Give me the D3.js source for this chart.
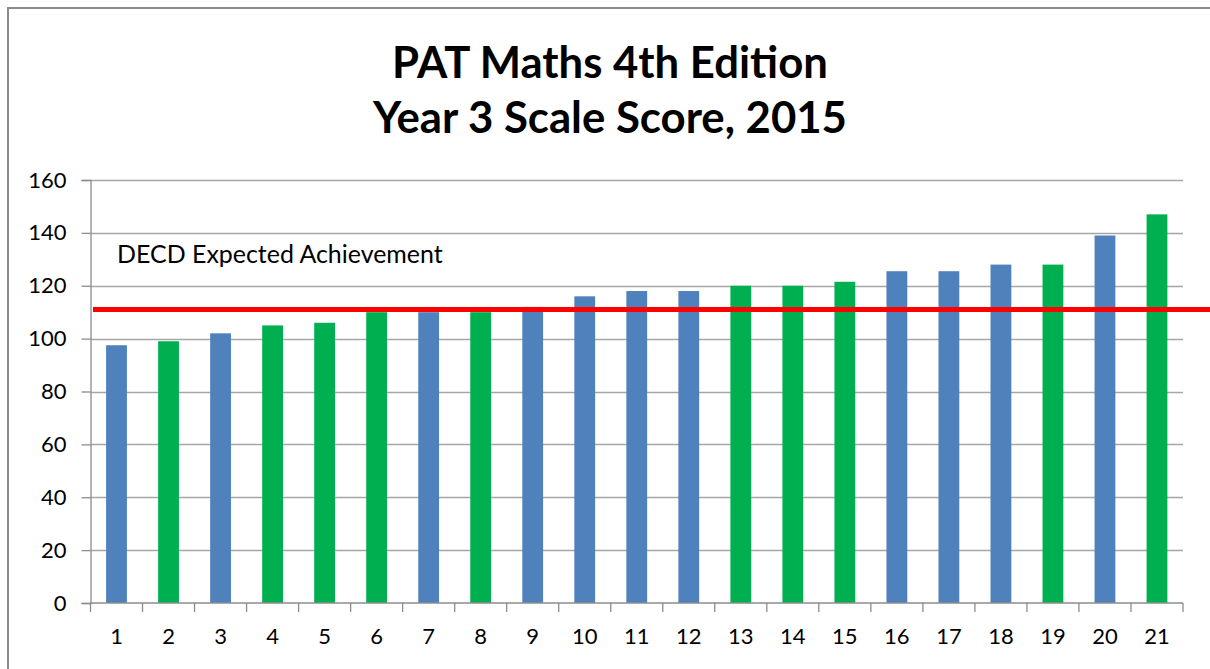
<!DOCTYPE html>
<html>
<head>
<meta charset="utf-8">
<script src="https://cdn.jsdelivr.net/npm/d3@7"></script>
<style>
  html, body { margin: 0; padding: 0; background: #fff; }
  svg { display: block; }
</style>
</head>
<body>
<svg id="chart" width="1210" height="669"></svg>
<script>
// ---- data ----
const categories = ["1","2","3","4","5","6","7","8","9","10","11","12","13","14","15","16","17","18","19","20","21"];
const scores = [97.5, 99, 102, 105, 106, 110, 110, 110, 112, 116, 118, 118, 120, 120, 121.5, 125.5, 125.5, 128, 128, 139, 147];
const groups = ["blue","green","blue","green","green","green","blue","green","blue","blue","blue","blue","green","green","green","blue","blue","blue","green","blue","green"];
const yTicks = [0, 20, 40, 60, 80, 100, 120, 140, 160];
const expectedAchievement = [111];
const titleLines = ["PAT Maths 4th Edition", "Year 3 Scale Score, 2015"];
const refLabel = ["DECD Expected Achievement"];

// ---- layout ----
const svg = d3.select("#chart");
const plotL = 90.5, plotR = 1183, plotT = 180, plotB = 603;
const colors = { blue: "#4F81BD", green: "#00B050" };

const x = d3.scaleBand().domain(categories).range([plotL, plotR]).padding(0);
const y = d3.scaleLinear().domain([0, 160]).range([plotB, plotT]);

function fit(sel, target) {
  const w = sel.node().getComputedTextLength();
  const fs = parseFloat(sel.attr("font-size"));
  if (w > 0) sel.attr("font-size", fs * target / w);
}

// chart border
svg.append("path")
  .attr("d", "M8,669 L8,8 L1210,8")
  .attr("fill", "none").attr("stroke", "#8c8c8c").attr("stroke-width", 2);

// title
const t1 = svg.append("text").attr("x", 610).attr("y", 78)
  .attr("text-anchor", "middle").attr("font-family", "Lato, 'Open Sans', sans-serif")
  .attr("font-weight", "bold").attr("font-size", 44).attr("fill", "#000").text(titleLines[0]);
fit(t1, 436);
const t2 = svg.append("text").attr("x", 610).attr("y", 133)
  .attr("text-anchor", "middle").attr("font-family", "Lato, 'Open Sans', sans-serif")
  .attr("font-weight", "bold").attr("font-size", 44).attr("fill", "#000").text(titleLines[1]);
fit(t2, 474);

// gridlines
svg.append("g").selectAll("line").data(yTicks.filter(d => d > 0)).join("line")
  .attr("x1", plotL).attr("x2", plotR)
  .attr("y1", d => Math.round(y(d)) + 0.5).attr("y2", d => Math.round(y(d)) + 0.5)
  .attr("stroke", "#a6a6a6").attr("stroke-width", 1.3);

// y axis
const yAxis = svg.append("g").attr("transform", `translate(${plotL},0)`)
  .call(d3.axisLeft(y).tickValues(yTicks).tickSize(9).tickPadding(15));
yAxis.select(".domain").attr("stroke", "#8c8c8c").attr("stroke-width", 1.3);
yAxis.selectAll(".tick line").attr("stroke", "#8c8c8c").attr("stroke-width", 1.3);
yAxis.selectAll(".tick text").attr("font-family", "Lato, sans-serif").attr("font-size", 22).attr("fill", "#000");

// bars
const barW = x.bandwidth() * 0.4;
svg.append("g").selectAll("rect").data(scores).join("rect")
  .attr("x", (d, i) => x(categories[i]) + (x.bandwidth() - barW) / 2)
  .attr("width", barW)
  .attr("y", d => y(d))
  .attr("height", d => y(0) - y(d))
  .attr("fill", (d, i) => colors[groups[i]]);

// x axis
const xAxisG = svg.append("g").attr("transform", `translate(0,${plotB})`);
xAxisG.append("line").attr("x1", plotL).attr("x2", plotR).attr("y1", 0).attr("y2", 0)
  .attr("stroke", "#8c8c8c").attr("stroke-width", 1.3);
const bounds = categories.map(c => x(c)).concat([x(categories[categories.length - 1]) + x.bandwidth()]);
xAxisG.selectAll("line.tk").data(bounds).join("line").attr("class", "tk")
  .attr("x1", d => d).attr("x2", d => d).attr("y1", 0).attr("y2", 9)
  .attr("stroke", "#8c8c8c").attr("stroke-width", 1.3);
xAxisG.selectAll("text").data(categories).join("text")
  .attr("x", d => x(d) + x.bandwidth() / 2).attr("y", 41)
  .attr("text-anchor", "middle").attr("font-family", "Lato, sans-serif")
  .attr("font-size", 22).attr("fill", "#000").text(d => d);

// expected achievement line
svg.append("g").selectAll("line").data(expectedAchievement).join("line")
  .attr("x1", 93).attr("x2", 1210)
  .attr("y1", d => y(d)).attr("y2", d => y(d))
  .attr("stroke", "#FF0000").attr("stroke-width", 5);

// label
const lab = svg.append("text").attr("x", 117).attr("y", 263)
  .attr("font-family", "Lato, 'Open Sans', sans-serif").attr("font-size", 24)
  .attr("fill", "#000").text(refLabel[0]);
fit(lab, 326);
</script>
</body>
</html>
